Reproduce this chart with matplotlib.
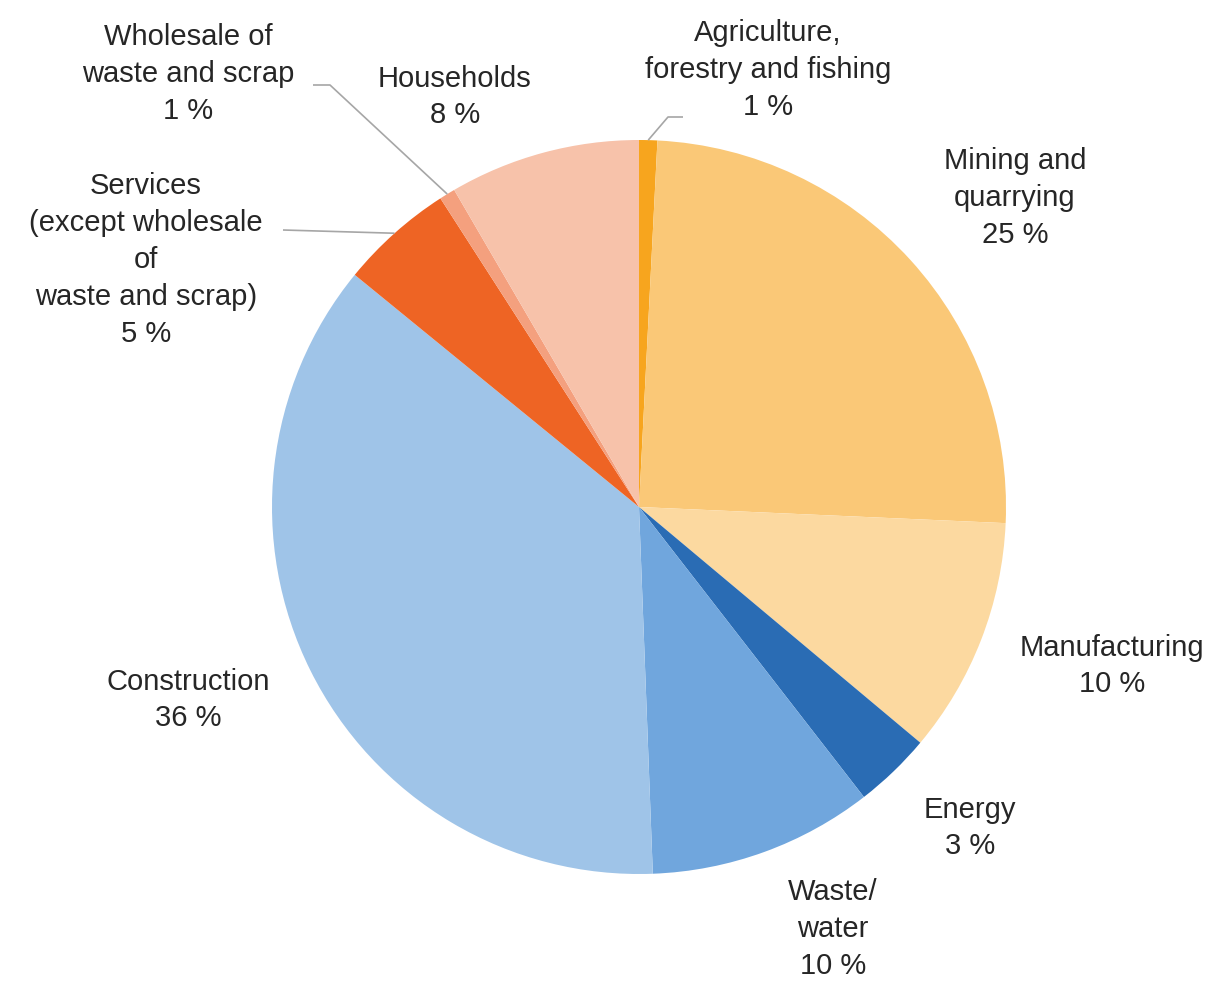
import numpy as np
import matplotlib
matplotlib.use("Agg")
import matplotlib.pyplot as plt

plt.rcParams['font.family'] = ['Liberation Sans', 'DejaVu Sans']

categories = ["Agriculture,\nforestry and fishing", "Mining and\nquarrying", "Manufacturing",
              "Energy", "Waste/\nwater", "Construction",
              "Services\n(except wholesale\nof\nwaste and scrap)", "Wholesale of\nwaste and scrap",
              "Households"]
values = [0.8, 24.9, 10.4, 3.4, 9.9, 36.5, 5.0, 0.7, 8.4]
pct_labels = ["1 %", "25 %", "10 %", "3 %", "10 %", "36 %", "5 %", "1 %", "8 %"]
colors = ["#F7A51E", "#FAC877", "#FCD9A0", "#2A6CB4", "#70A6DD", "#9FC4E8",
          "#EE6424", "#F4A07E", "#F7C2AA"]

W, H = 1221, 981
fig = plt.figure(figsize=(W / 100, H / 100), dpi=100)
ax = fig.add_axes([0, 0, 1, 1])
ax.set_xlim(0, W)
ax.set_ylim(0, H)
ax.set_aspect('equal')
ax.axis('off')

cx, cy, r = 639, H - 507, 367
wedges, _ = ax.pie(values, colors=colors, startangle=90, counterclock=False,
                   center=(cx, cy), radius=r, frame=True,
                   wedgeprops=dict(linewidth=0))
ax.set_xlim(0, W)
ax.set_ylim(0, H)
ax.axis('off')

# label positions (pixel coords, y from top)
label_pos = [(768, 70), (1015, 198), (1112, 666), (970, 828), (833, 929),
             (188, 700), (146, 260), (188, 74), (455, 97)]
for cat, pct, (lx, ly) in zip(categories, pct_labels, label_pos):
    ax.text(lx, H - ly, cat + "\n" + pct, ha='center', va='center',
            fontsize=21, color='#262626', linespacing=1.4)

# leader lines
def mid_angle(i):
    tot = sum(values)
    start = 90 - 360 * sum(values[:i]) / tot
    end = start - 360 * values[i] / tot
    return np.deg2rad((start + end) / 2)

leaders = {0: [(668, 117), (683, 117)],
           7: [(330, 85), (313, 85)],
           6: [(283, 230)]}
for i, pts in leaders.items():
    a = mid_angle(i)
    x0, y0 = cx + r * np.cos(a), cy + r * np.sin(a)
    xs = [x0] + [p[0] for p in pts]
    ys = [y0] + [H - p[1] for p in pts]
    ax.plot(xs, ys, color='#A6A6A6', linewidth=1.2, solid_capstyle='butt')

fig.savefig("out.png", dpi=100)
